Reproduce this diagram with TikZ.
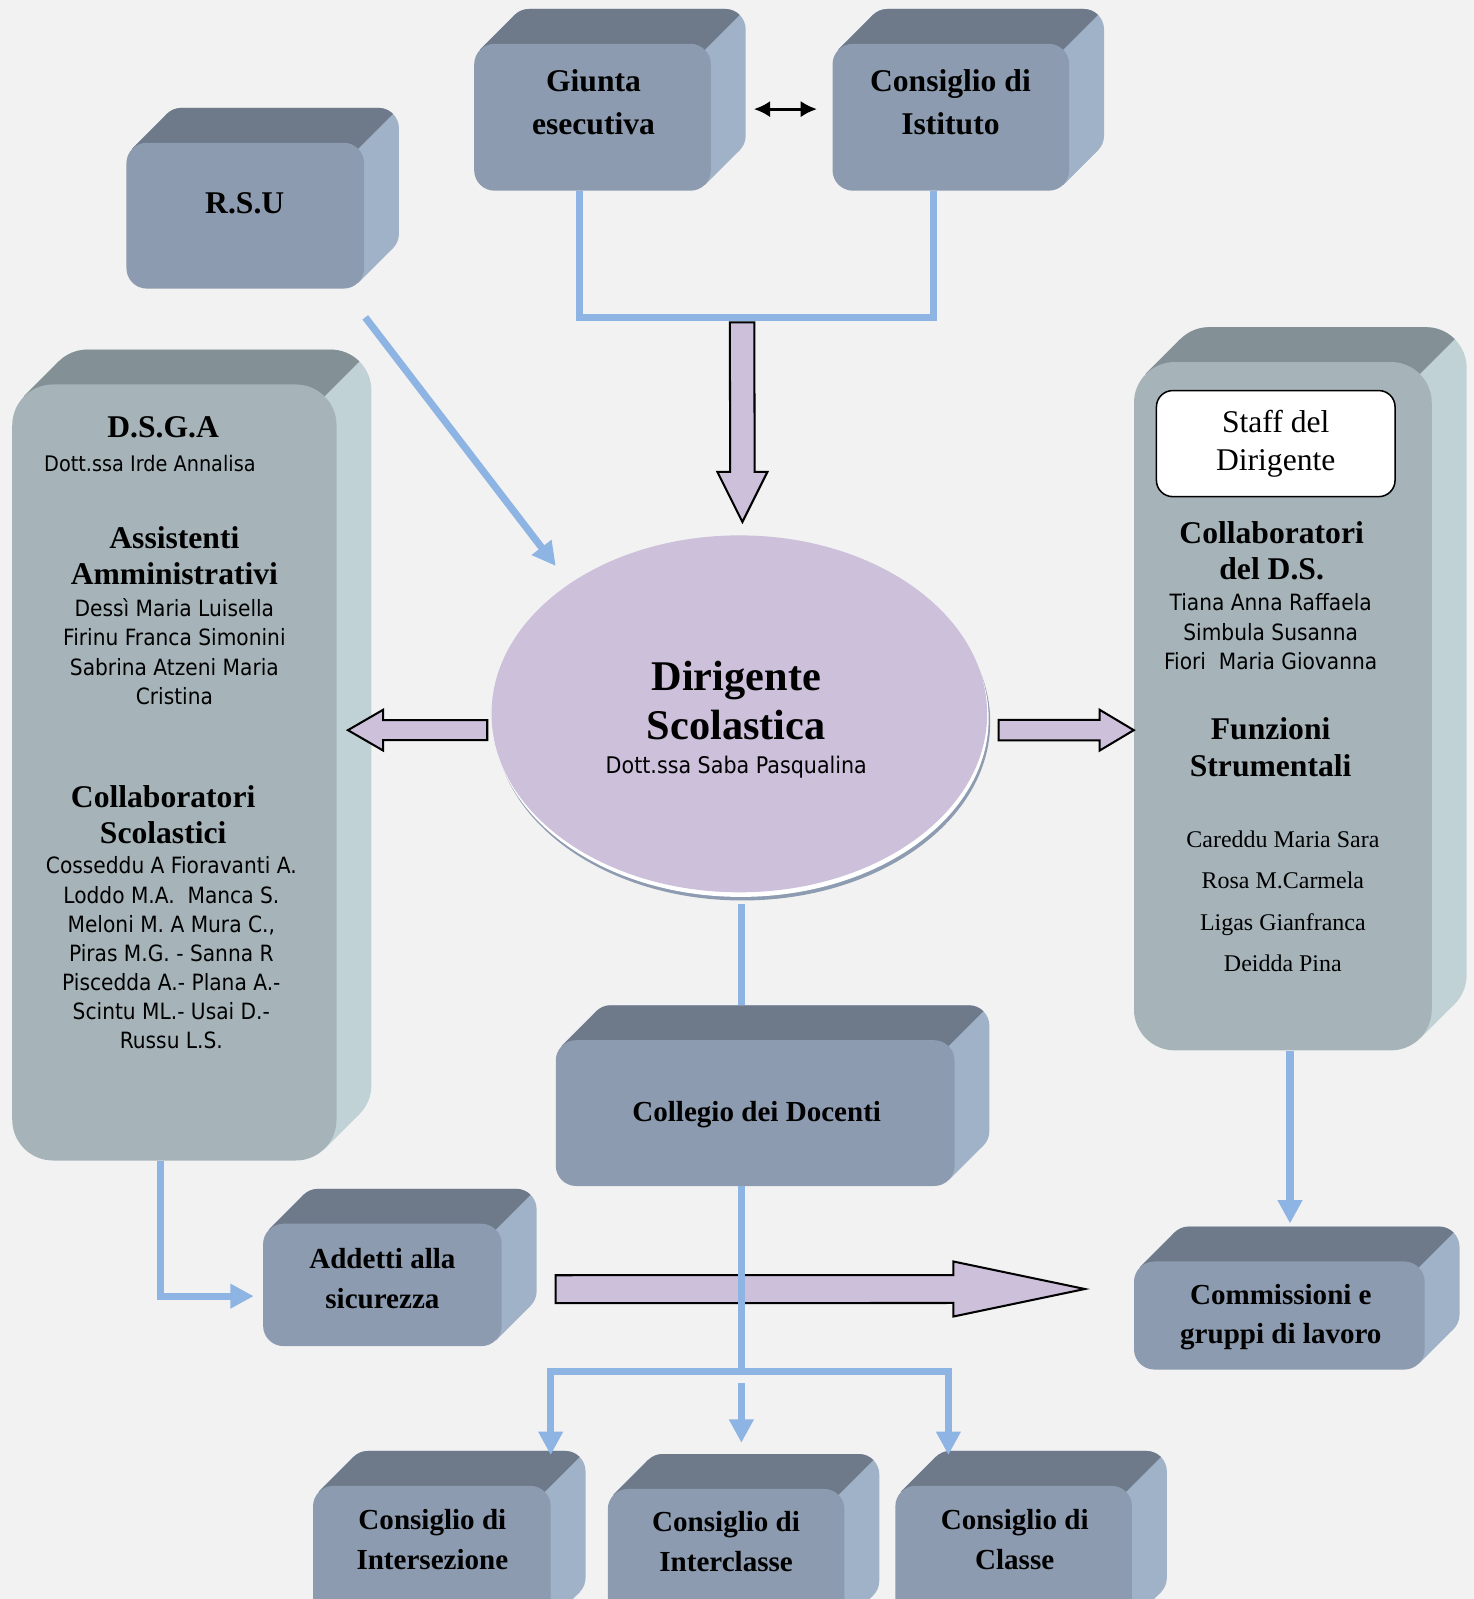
\documentclass[tikz,border=0pt]{standalone}
\usepackage{fontspec}
\setmainfont{Liberation Serif}
\newfontfamily\nomi[FakeStretch=0.9]{DejaVu Sans}
\usetikzlibrary{positioning,calc,shapes.geometric,arrows.meta}

\definecolor{sfondo}{HTML}{F2F2F2}
\definecolor{cuboFronte}{HTML}{8C9BAF}
\definecolor{cuboSopra}{HTML}{6E7A8A}
\definecolor{cuboLato}{HTML}{A0B2C8}
\definecolor{boxFronte}{HTML}{A6B4BA}
\definecolor{boxSopra}{HTML}{839096}
\definecolor{boxLato}{HTML}{C0D2D6}
\definecolor{lilla}{HTML}{CCC0DA}
\definecolor{azzurro}{HTML}{8DB4E2}
\definecolor{ombra}{HTML}{8E9CB1}

\pgfdeclarelayer{fondo}
\pgfdeclarelayer{retro}
\pgfsetlayers{fondo,retro,main}

% top and side faces behind a box: node, top colour, side colour, radius, 45 degree offset
\newcommand{\estrudi}[5]{%
  \fill[#3, rounded corners=#4] ($(#1.north west)+(34,-34)$) rectangle ($(#1.south east)+(34,-34)$);
  \fill[#3] ($(#1.north west)+(#5,#5)$) -- ++(34,-34) -- ($(#1.south east)+(34-#5,-34-#5)$)
    -- ($(#1.south east)+(-#5,-#5)$) -- cycle;
  \begin{scope}
    \clip ($(#1.north east)+(100,-100)$) -- ($(#1.north east)+(-1000,1000)$) -- ($(#1.north east)+(-1000,-100)$) -- cycle;
    \fill[#2, rounded corners=#4] ($(#1.north west)+(34,-34)$) rectangle ($(#1.south east)+(34,-34)$);
    \fill[#2] ($(#1.north west)+(#5,#5)$) -- ++(34,-34) -- ($(#1.south east)+(34-#5,-34-#5)$)
      -- ($(#1.south east)+(-#5,-#5)$) -- cycle;
  \end{scope}}
% block arrows: start, tip, half shaft, half head, head length
\newcommand{\frecciaH}[5]{%
  \draw[viola] ($(#1)+(0,-#3)$) -- ($(#2)+(#5,-#3)$) -- ($(#2)+(#5,-#4)$) -- (#2)
    -- ($(#2)+(#5,#4)$) -- ($(#2)+(#5,#3)$) -- ($(#1)+(0,#3)$) -- cycle;}
\newcommand{\frecciaV}[5]{%
  \draw[viola] ($(#1)+(-#3,0)$) -- ($(#2)+(-#3,#5)$) -- ($(#2)+(-#4,#5)$) -- (#2)
    -- ($(#2)+(#4,#5)$) -- ($(#2)+(#3,#5)$) -- ($(#1)+(#3,0)$) -- cycle;}

\begin{document}
\begin{tikzpicture}[x=1pt, y=-1pt,
  cubo/.style={rectangle, rounded corners=20pt, fill=cuboFronte, inner sep=0pt},
  blocco/.style={rectangle, rounded corners=40pt, fill=boxFronte, inner sep=0pt},
  tit/.style={align=center, inner sep=0pt, font=\fontsize{31}{36}\selectfont\bfseries},
  eticA/.style={align=center, inner sep=0pt, font=\fontsize{31}{42}\selectfont\bfseries},
  etic/.style={align=center, inner sep=0pt, font=\fontsize{28.5}{39}\selectfont\bfseries},
  nomi/.style={align=center, inner sep=0pt, font=\nomi\fontsize{22}{28.6}\selectfont},
  blu/.style={draw=azzurro, line width=7pt},
  freccia/.style={blu, -{Triangle[length=23pt,width=23pt]}},
  viola/.style={draw=black, fill=lilla, line width=2pt}]

\useasboundingbox (0,0) rectangle (1445,1568);

%Nodes
\node[cubo, minimum width=232pt, minimum height=144pt] (giunta) at (581,115) {};
\node[cubo, minimum width=232pt, minimum height=144pt] (istituto) [right=119pt of giunta] {};
\node[cubo, minimum width=233pt, minimum height=143pt] (rsu) at (240.5,211.5) {};
\node[blocco, minimum width=318pt, minimum height=761pt] (dsga) at (171,757.5) {};
\node[blocco, minimum width=292pt, minimum height=675pt] (staff) at (1258,692.5) {};
\node[ellipse, fill=lilla, minimum width=486pt, minimum height=350pt, inner sep=0pt] (dirigente) at (725,700) {};
\node[cubo, minimum width=391pt, minimum height=143pt] (collegio) at (740.5,1091.5) {};
\node[cubo, minimum width=234pt, minimum height=120pt] (addetti) at (375,1260) {};
\node[cubo, minimum width=285pt, minimum height=106pt] (commissioni) at (1254.5,1290) {};
\node[cubo, minimum width=233pt, minimum height=144pt] (intersezione) at (423.5,1529) {};
\node[cubo, minimum width=232pt, minimum height=144pt] (interclasse) at (712,1532) {};
\node[cubo, minimum width=232pt, minimum height=144pt] (classe) at (994,1529) {};

%Texts
\node[eticA] (giuntaT) at (582,100) {Giunta\\esecutiva};
\node[eticA] (istitutoT) at (932,100) {Consiglio di\\Istituto};
\node[eticA] (rsuT) at (240,199) {R.S.U};
\node[etic] (collegioT) at (742,1093) {Collegio dei Docenti};
\node[etic] (addettiT) at (375,1254) {Addetti alla\\sicurezza};
\node[etic] (commissioniT) at (1256,1291.5) {Commissioni e\\gruppi di lavoro};
\node[etic] (intersezioneT) at (424,1509.5) {Consiglio di\\Intersezione};
\node[etic] (interclasseT) at (712,1512) {Consiglio di\\Interclasse};
\node[etic] (classeT) at (995,1509.5) {Consiglio di\\Classe};

\node[align=center, inner sep=0pt, font=\fontsize{41.5}{48}\selectfont\bfseries] (dirigenteT) at (722,706)
  {Dirigente\\Scolastica\\[-15pt]{\nomi\mdseries\fontsize{22.5}{27}\selectfont Dott.ssa Saba Pasqualina}};

\node[tit] (dsgaT) at (160,419) {D.S.G.A};
\node[nomi, font=\nomi\fontsize{21}{28}\selectfont] (dsgaN) at (147,455) {Dott.ssa Irde Annalisa};
\node[tit] (assistentiT) at (171,545) {Assistenti\\Amministrativi};
\node[nomi] (assistentiN) at (171,639) {Dessì Maria Luisella\\Firinu Franca Simonini\\Sabrina Atzeni Maria\\Cristina};
\node[tit] (scolasticiT) at (160,799) {Collaboratori\\Scolastici};
\node[nomi] (scolasticiN) at (168,934.5) {Cosseddu A Fioravanti A.\\Loddo M.A.~~Manca S.\\Meloni M. A Mura C.,\\Piras M.G. - Sanna R\\Piscedda A.- Plana A.-\\Scintu ML.- Usai D.-\\Russu L.S.};

\node[draw=black, fill=white, rounded corners=16pt, line width=1.5pt, minimum width=234pt, minimum height=104pt,
  align=center, font=\fontsize{31}{37}\selectfont] (staffT) at (1251,435) {Staff del\\Dirigente};
\node[tit] (collaboratoriT) at (1247,540) {Collaboratori\\del D.S.};
\node[nomi] (collaboratoriN) at (1246,619.5) {Tiana Anna Raffaela\\Simbula Susanna\\Fiori~~Maria Giovanna};
\node[tit] (funzioniT) at (1246,733) {Funzioni\\Strumentali};
\node[align=center, inner sep=0pt, font=\fontsize{23.5}{40.7}\selectfont] (funzioniN) at (1258,884) {Careddu Maria Sara\\Rosa M.Carmela\\Ligas Gianfranca\\Deidda Pina};

%Lines
\draw[blu] ([xshift=-13pt]giunta.south) -- ++(0,124) -| ([xshift=-17pt]istituto.south);
\draw[line width=3pt, {Latex[length=16pt,width=16pt]}-{Latex[length=16pt,width=16pt]}]
  ($(giunta.east)+(42,-8)$) -- ($(istituto.west)+(-15,-8)$);

\coordinate (scende) at ($(giunta.south)!0.5!(istituto.south)+(-29,129)$);
\coordinate (punta) at ($(dirigente.north)+(3,-13)$);
\frecciaV{scende}{punta}{12}{24.5}{-49}

\draw[freccia] ($(rsu.south east)+(1,28)$) -- ($(dirigente.center)+(-180,-145)$);

\coordinate (sxA) at ($(dirigente.west)+(-4,16)$);
\coordinate (sxB) at ($(dsga.east |- dirigente.west)+(11,16)$);
\frecciaH{sxA}{sxB}{9.8}{20}{34.5}
\coordinate (dxA) at ($(dirigente.east)+(11,16)$);
\coordinate (dxB) at ($(staff.west |- dirigente.east)+(0,16)$);
\frecciaH{dxA}{dxB}{10}{20}{-33.5}

\draw[blu] ($(dirigente.south)+(2,11)$) -- ($(collegio.north)+(-13.5,-34)$);

\coordinate (orA) at ($(collegio.south west)+(0,101)$);
\coordinate (orB) at ($(commissioni.west)+(-48,-26)$);
\frecciaH{orA}{orB}{13.7}{27}{-129}

\draw[blu] ([xshift=-13.5pt]collegio.south) -- ++(0,182) coordinate (snodo);
\draw[freccia] (snodo) -| ($(intersezione.north)+(116.5,-30)$);
\draw[freccia] (snodo) -| ($(classe.north)+(-64,-30)$);
\draw[freccia] ($(snodo)+(0,11)$) -- ($(interclasse.north)+(15,-45)$);

\draw[freccia] ([xshift=-14pt]dsga.south) |- ($(addetti.west)+(-9,11)$);
\draw[freccia] ([xshift=7pt]staff.south) -- ($(commissioni.north)+(10.5,-37)$);

%Background
\begin{pgfonlayer}{retro}
\foreach \n in {giunta,istituto,rsu,collegio,addetti,commissioni,intersezione,interclasse,classe}
  {\estrudi{\n}{cuboSopra}{cuboLato}{20pt}{5.86}}
\foreach \n in {dsga,staff}
  {\estrudi{\n}{boxSopra}{boxLato}{40pt}{11.7}}
\fill[ombra] ($(dirigente.center)+(3,8)$) ellipse [x radius=243, y radius=175];
\fill[white] ($(dirigente.center)+(1.5,4.5)$) ellipse [x radius=243, y radius=175];
\end{pgfonlayer}
\begin{pgfonlayer}{fondo}
\fill[sfondo] (0,0) rectangle (1445,1568);
\end{pgfonlayer}

\end{tikzpicture}
\end{document}
